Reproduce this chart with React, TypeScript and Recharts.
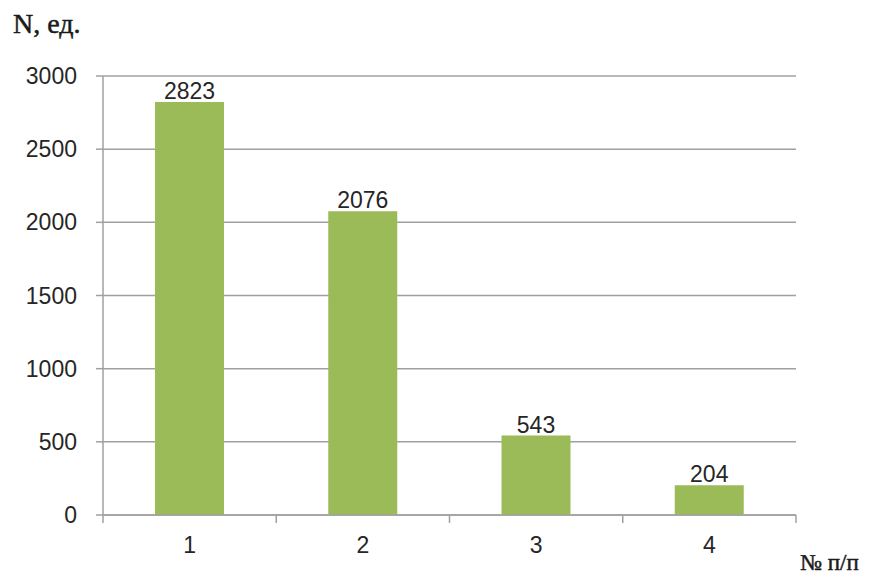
import { BarChart, Bar, XAxis, YAxis, CartesianGrid, LabelList } from 'recharts'

const categories = ['1', '2', '3', '4']
const counts = [2823, 2076, 543, 204]
const yTicks = [0, 500, 1000, 1500, 2000, 2500, 3000]

const data = categories.map((name, i) => ({ name, value: counts[i] }))

const tickFont = { fontSize: 23, fill: '#262626', fontFamily: 'Liberation Sans, Arial, sans-serif' }
const gridColor = '#a0a0a0'
const axisStroke = { stroke: gridColor, strokeWidth: 1.5 }
const X_TICK_MARGIN = 22
const EDGE_TICK = 8

// category label plus the boundary tick marks Excel draws between categories
function CategoryTick(props: any) {
  const { x, y, payload, index } = props
  const half = payload.offset ?? 693 / categories.length / 2
  const axisY = y - X_TICK_MARGIN
  const isLast = index === categories.length - 1
  return (
    <g>
      <line x1={x - half} x2={x - half} y1={axisY} y2={axisY + EDGE_TICK} stroke={gridColor} strokeWidth={1.5} />
      {isLast && (
        <line x1={x + half} x2={x + half} y1={axisY} y2={axisY + EDGE_TICK} stroke={gridColor} strokeWidth={1.5} />
      )}
      <text x={x} y={y} dy="0.71em" textAnchor="middle" {...tickFont}>
        {payload.value}
      </text>
    </g>
  )
}

const serifTitle = {
  position: 'absolute' as const,
  fontFamily: 'Liberation Serif, serif',
  color: '#1a1a1a',
  WebkitTextStroke: '0.5px #1a1a1a',
  whiteSpace: 'nowrap' as const,
}

export default function App() {
  return (
    <div style={{ position: 'absolute', left: 0, top: 0, width: 871, height: 576, background: '#fff', overflow: 'hidden' }}>
      <BarChart
        width={871}
        height={576}
        data={data}
        margin={{ top: 76, right: 75, left: 0, bottom: 0 }}
        barSize={69}
      >
        <CartesianGrid stroke={gridColor} strokeWidth={1.5} vertical={false} />
        <XAxis
          dataKey="name"
          height={61}
          axisLine={axisStroke}
          tickLine={false}
          tickSize={0}
          tickMargin={X_TICK_MARGIN}
          interval={0}
          tick={<CategoryTick />}
        />
        <YAxis
          width={103}
          domain={[0, 3000]}
          ticks={yTicks}
          interval={0}
          axisLine={axisStroke}
          tickLine={axisStroke}
          tickSize={7}
          tickMargin={19}
          tick={tickFont}
        />
        <Bar dataKey="value" fill="#9bbb59" isAnimationActive={false}>
          <LabelList dataKey="value" position="top" offset={3} style={tickFont} />
        </Bar>
      </BarChart>
      <div style={{ ...serifTitle, left: 13, top: 8, fontSize: 28 }}>N, ед.</div>
      <div style={{ ...serifTitle, left: 800, top: 550, fontSize: 23 }}>№ п/п</div>
    </div>
  )
}
